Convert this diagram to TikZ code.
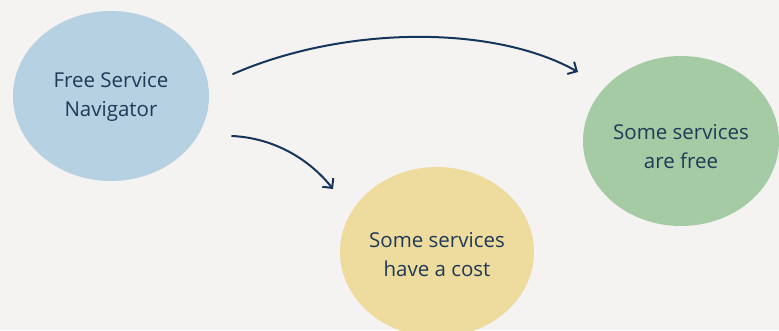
\documentclass[tikz,border=0pt]{standalone}
\usepackage{fontspec}
\setmainfont{Open Sans}
\usetikzlibrary{arrows.meta,shapes.geometric}
\definecolor{bgc}{HTML}{F5F3F2}
\definecolor{blueblob}{HTML}{B6D1E2}
\definecolor{greenblob}{HTML}{A5CBA5}
\definecolor{yellowblob}{HTML}{EEDB9E}
\definecolor{ink}{HTML}{1E3A56}
\definecolor{arrowc}{HTML}{15365A}
\tikzset{
  blob/.style={ellipse, draw=none, inner sep=0pt},
  lbl/.style={text=ink, align=center, font=\fontsize{20.5}{29}\selectfont},
  conn/.style={draw=arrowc, line width=2pt, line cap=round,
    -{Straight Barb[length=7pt, width=14pt, line width=2pt]}}
}
\begin{document}
\begin{tikzpicture}[x=1pt,y=-1pt]
\useasboundingbox (0,0) rectangle (779,330);
\fill[bgc] (0,0) rectangle (779,330);
\clip (0,0) rectangle (779,330);
\node[blob, fill=blueblob, minimum width=196pt, minimum height=170pt] (blue) at (111,96) {};
\node[blob, fill=greenblob, minimum width=196pt, minimum height=170pt] (green) at (681,141) {};
\node[blob, fill=yellowblob, minimum width=194pt, minimum height=170pt] (yellow) at (437,252) {};
\node[lbl] (bluetext) at (111,97) {Free Service\\Navigator};
\node[lbl] (greentext) at (681,147) {Some services\\are free};
\node[lbl] (yellowtext) at (437,255) {Some services\\have a cost};
\coordinate (s1) at (233,74);
\coordinate (e1) at (578,72);
\coordinate (s2) at (232,136);
\coordinate (e2) at (333,189);
\draw[conn] (s1) .. controls (345,25) and (495,25) .. (e1);
\draw[conn] (s2) .. controls (275,138) and (310,160) .. (e2);
\end{tikzpicture}
\end{document}
